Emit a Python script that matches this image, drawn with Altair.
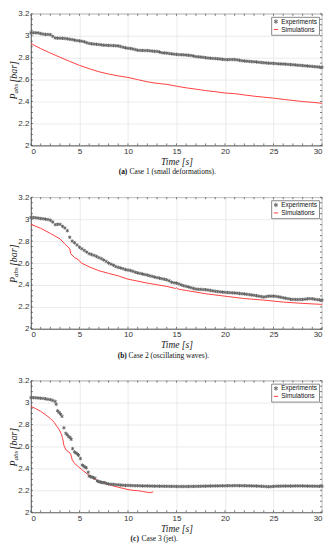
import altair as alt
import pandas as pd

SERIES = ["Experiments", "Simulations"]

# ---------- Case 1 (small deformations) ----------
exp_a_t = [i * 0.25 for i in range(121)]
exp_a_p = [3.027, 3.027, 3.027, 3.026, 3.02, 3.015, 3.012, 3.012,
           3.01, 2.995, 2.98, 2.978, 2.977, 2.977, 2.975, 2.972,
           2.968, 2.965, 2.96, 2.956, 2.953, 2.95, 2.945, 2.937,
           2.93, 2.927, 2.924, 2.922, 2.92, 2.917, 2.914, 2.913,
           2.912, 2.911, 2.91, 2.909, 2.907, 2.902, 2.895, 2.89,
           2.886, 2.884, 2.88, 2.874, 2.868, 2.866, 2.866, 2.865,
           2.865, 2.863, 2.86, 2.858, 2.857, 2.852, 2.845, 2.843,
           2.842, 2.838, 2.835, 2.832, 2.83, 2.828, 2.827, 2.826,
           2.824, 2.822, 2.82, 2.815, 2.81, 2.808, 2.806, 2.803,
           2.8, 2.797, 2.795, 2.793, 2.792, 2.79, 2.788, 2.785,
           2.783, 2.782, 2.783, 2.783, 2.783, 2.78, 2.776, 2.772,
           2.77, 2.768, 2.766, 2.764, 2.763, 2.761, 2.758, 2.756,
           2.754, 2.752, 2.75, 2.749, 2.748, 2.746, 2.744, 2.743,
           2.742, 2.741, 2.739, 2.737, 2.736, 2.734, 2.731, 2.73,
           2.728, 2.726, 2.724, 2.722, 2.72, 2.718, 2.716, 2.714,
           2.713]
sim_a_t = [0, 0.5, 1, 2, 3, 4, 5, 6, 7, 8, 9, 10, 11, 12, 13, 14, 15,
           16, 17, 18, 19, 20, 21, 22, 23, 24, 25, 26, 27, 28, 29, 30]
sim_a_p = [2.93, 2.906, 2.883, 2.842, 2.804, 2.766, 2.73, 2.70, 2.672,
           2.651, 2.634, 2.62, 2.60, 2.58, 2.566, 2.557, 2.54, 2.525,
           2.513, 2.50, 2.49, 2.478, 2.472, 2.46, 2.449, 2.44, 2.431,
           2.42, 2.41, 2.40, 2.393, 2.384]

# ---------- Case 2 (oscillating waves) ----------
exp_b_t = [i * 0.25 for i in range(121)]
exp_b_p = [3.015, 3.015, 3.013, 3.01, 3.006, 3.004, 3.0, 2.997,
           2.99, 2.975, 2.95, 2.953, 2.953, 2.935, 2.92, 2.895,
           2.835, 2.80, 2.785, 2.765, 2.744, 2.73, 2.715, 2.70,
           2.685, 2.678, 2.67, 2.66, 2.65, 2.64, 2.628, 2.615,
           2.60, 2.59, 2.58, 2.568, 2.56, 2.555, 2.548, 2.54,
           2.536, 2.532, 2.525, 2.516, 2.51, 2.505, 2.5, 2.495,
           2.49, 2.484, 2.478, 2.472, 2.467, 2.462, 2.457, 2.452,
           2.447, 2.438, 2.425, 2.42, 2.417, 2.41, 2.40, 2.393,
           2.387, 2.382, 2.375, 2.368, 2.363, 2.36, 2.36, 2.358,
           2.357, 2.354, 2.35, 2.346, 2.342, 2.34, 2.337, 2.335,
           2.333, 2.331, 2.33, 2.328, 2.327, 2.325, 2.322, 2.32,
           2.318, 2.315, 2.312, 2.309, 2.306, 2.302, 2.298, 2.294,
           2.29, 2.294, 2.298, 2.298, 2.298, 2.296, 2.292, 2.288,
           2.283, 2.279, 2.275, 2.27, 2.268, 2.268, 2.267, 2.268,
           2.268, 2.27, 2.274, 2.275, 2.274, 2.27, 2.266, 2.264,
           2.262]
sim_b_t = [0, 1, 2, 3, 3.5, 4, 4.1, 4.5, 4.9, 5.2, 6, 7, 8, 9, 10, 12,
           14, 14.9, 15, 15.2, 16, 18, 20, 22, 24, 26, 28, 30]
sim_b_p = [2.953, 2.917, 2.87, 2.82, 2.774, 2.73, 2.685, 2.65, 2.63,
           2.60, 2.566, 2.53, 2.506, 2.483, 2.453, 2.417, 2.387, 2.368,
           2.375, 2.362, 2.35, 2.32, 2.298, 2.276, 2.262, 2.244, 2.232,
           2.223]

# ---------- Case 3 (jet) ----------
exp_c_t = ([i * 0.25 for i in range(11)] +
           [2.6, 2.75, 2.9, 3.05, 3.2, 3.4, 3.6, 3.75, 3.9, 4.05, 4.15,
            4.3, 4.5, 4.65, 4.8, 4.9, 5.1, 5.3, 5.45, 5.6, 5.7, 5.9,
            6.0, 6.15, 6.3, 6.45, 6.6, 6.85, 7.0, 7.15, 7.3, 7.45, 7.6,
            7.8] +
           [8 + i * 0.25 for i in range(89)])
exp_c_p = ([3.045, 3.045, 3.044, 3.042, 3.04, 3.038, 3.035, 3.03, 3.027,
            3.02, 3.01] +
           [2.985, 2.925, 2.91, 2.895, 2.875, 2.77, 2.72, 2.705, 2.69,
            2.68, 2.665, 2.58, 2.55, 2.54, 2.53, 2.52, 2.49, 2.43, 2.42,
            2.41, 2.405, 2.365, 2.33, 2.325, 2.32, 2.315, 2.31, 2.285,
            2.28, 2.275, 2.272, 2.27, 2.27, 2.262] +
           [2.258, 2.256, 2.254, 2.252, 2.25, 2.248, 2.246, 2.245,
            2.245, 2.244, 2.243, 2.242, 2.242, 2.241, 2.24, 2.24,
            2.24, 2.239, 2.239, 2.238, 2.238, 2.238, 2.237, 2.237,
            2.237, 2.236, 2.236, 2.236, 2.235, 2.235, 2.235, 2.235,
            2.235, 2.235, 2.236, 2.236, 2.236, 2.237, 2.237, 2.238,
            2.238, 2.239, 2.239, 2.24, 2.24, 2.24, 2.241, 2.241,
            2.241, 2.242, 2.242, 2.242, 2.243, 2.243, 2.242, 2.242,
            2.242, 2.241, 2.241, 2.24, 2.24, 2.239, 2.238, 2.237,
            2.236, 2.234, 2.233, 2.234, 2.236, 2.237, 2.238, 2.238,
            2.239, 2.239, 2.239, 2.239, 2.239, 2.24, 2.24, 2.24,
            2.24, 2.239, 2.239, 2.238, 2.238, 2.238, 2.237, 2.237,
            2.237])
sim_c_t = [0, 0.5, 1.0, 1.5, 2.0, 2.4, 2.7, 2.9, 3.1, 3.25, 3.4, 3.6, 3.9,
           4.1, 4.25, 4.5, 4.9, 5.3, 5.8, 6.2, 6.6, 7.0, 7.5, 8.0, 8.5,
           9.0, 9.5, 10, 10.5, 11, 11.5, 12, 12.3, 12.6]
sim_c_p = [2.965, 2.945, 2.92, 2.89, 2.855, 2.82, 2.78, 2.755, 2.72, 2.68,
           2.61, 2.57, 2.55, 2.53, 2.48, 2.445, 2.415, 2.385, 2.35, 2.32,
           2.30, 2.285, 2.27, 2.253, 2.24, 2.228, 2.218, 2.207, 2.2,
           2.197, 2.19, 2.182, 2.178, 2.186]

X_LABELS = [0, 5, 10, 15, 20, 25, 30]
Y_LABELS = [2, 2.2, 2.4, 2.6, 2.8, 3, 3.2]
X_TICKS = list(range(0, 31))
Y_TICKS = [round(2 + 0.05 * i, 2) for i in range(25)]

W, H = 292, 132
EXP_COLOR = "#646464"
SIM_COLOR = "#ff4040"
ASTERISK = "M0,-1L0,1M-0.866,-0.5L0.866,0.5M-0.866,0.5L0.866,-0.5"
SANS = "Liberation Sans"
SERIF = "Liberation Serif"
TX = -17  # centre line of the rotated y title


def panel(exp_t, exp_p, sim_t, sim_p, tag, caption, cap_x):
    exp_df = pd.DataFrame({"t": exp_t, "p": exp_p, "series": "Experiments"})
    sim_df = pd.DataFrame({"t": sim_t, "p": sim_p, "series": "Simulations"})
    one = pd.DataFrame({"a": [0]})

    x = alt.X("t:Q", scale=alt.Scale(domain=[0, 30], nice=False),
              axis=alt.Axis(values=X_LABELS, title="Time [s]", ticks=False,
                            labelPadding=2, titlePadding=1,
                            titleFont=SERIF, titleFontStyle="italic",
                            titleFontWeight="normal", titleFontSize=9.5,
                            titleColor="#222"))
    y = alt.Y("p:Q", scale=alt.Scale(domain=[2, 3.2], nice=False),
              axis=alt.Axis(values=Y_LABELS, title=None, ticks=False,
                            format="~g", labelPadding=2))
    legend = alt.Legend(title=None, orient="top-right", offset=3,
                        fillColor="white", strokeColor="#8a8a8a",
                        padding=1.5, rowPadding=0, labelFont=SANS,
                        labelFontSize=6.5, labelColor="#111",
                        symbolSize=20, symbolStrokeWidth=1, labelOffset=2)
    color = alt.Color("series:N",
                      scale=alt.Scale(domain=SERIES, range=[EXP_COLOR, SIM_COLOR]),
                      legend=legend)
    shape = alt.Shape("series:N",
                      scale=alt.Scale(domain=SERIES, range=[ASTERISK, "stroke"]),
                      legend=legend)

    pts = alt.Chart(exp_df).mark_point(filled=False, size=12, strokeWidth=1,
                                       opacity=1).encode(x=x, y=y, color=color,
                                                         shape=shape)
    line = alt.Chart(sim_df).mark_line(strokeWidth=1).encode(x=x, y=y, color=color)

    xt = pd.DataFrame({"t": X_TICKS})
    yt = pd.DataFrame({"p": Y_TICKS})
    tick_style = dict(color="#444", strokeWidth=0.7)
    bt = alt.Chart(xt).mark_rule(**tick_style).encode(x=x, y=alt.value(H), y2=alt.value(H - 2))
    tt = alt.Chart(xt).mark_rule(**tick_style).encode(x=x, y=alt.value(0), y2=alt.value(2))
    lt = alt.Chart(yt).mark_rule(**tick_style).encode(y=y, x=alt.value(0), x2=alt.value(2))
    rt = alt.Chart(yt).mark_rule(**tick_style).encode(y=y, x=alt.value(W - 2), x2=alt.value(W))

    # y-axis title: P_abs [bar]
    yt_p = alt.Chart(one).mark_text(font=SERIF, fontStyle="italic", fontSize=10,
                                    angle=270, align="left", baseline="middle",
                                    dx=-20, color="#222").encode(
        x=alt.value(TX), y=alt.value(H / 2), text=alt.value("P"))
    yt_s = alt.Chart(one).mark_text(font=SERIF, fontStyle="italic", fontSize=7,
                                    angle=270, align="left", baseline="middle",
                                    dx=-14, dy=2.5, color="#222").encode(
        x=alt.value(TX), y=alt.value(H / 2), text=alt.value("abs"))
    yt_b = alt.Chart(one).mark_text(font=SERIF, fontStyle="italic", fontSize=10,
                                    angle=270, align="left", baseline="middle",
                                    dx=-3, color="#222").encode(
        x=alt.value(TX), y=alt.value(H / 2), text=alt.value("[bar]"))

    cap_tag = alt.Chart(one).mark_text(font=SERIF, fontWeight="bold", fontSize=7.5,
                                       align="left", baseline="middle",
                                       color="#111").encode(
        x=alt.value(cap_x), y=alt.value(H + 27), text=alt.value(tag))
    cap_txt = alt.Chart(one).mark_text(font=SERIF, fontSize=7.5, align="left",
                                       baseline="middle", color="#111").encode(
        x=alt.value(cap_x + 11), y=alt.value(H + 27), text=alt.value(caption))

    return alt.layer(lt, rt, bt, tt, line, pts, yt_p, yt_s, yt_b, cap_tag,
                     cap_txt).properties(width=W, height=H)


p1 = panel(exp_a_t, exp_a_p, sim_a_t, sim_a_p, "(a)",
           "Case 1 (small deformations).", 88)
p2 = panel(exp_b_t, exp_b_p, sim_b_t, sim_b_p, "(b)",
           "Case 2 (oscillating waves).", 87)
p3 = panel(exp_c_t, exp_c_p, sim_c_t, sim_c_p, "(c)",
           "Case 3 (jet).", 100)

chart = alt.vconcat(p1, p2, p3, spacing=16).resolve_scale(
    color="independent", shape="independent"
).properties(
    padding={"left": 0, "top": 0, "right": 0, "bottom": 0}
).configure_view(
    stroke="#777", strokeWidth=0.8
).configure_axis(
    labelFont=SANS, labelFontSize=8, labelColor="#333",
    domainColor="#555", domainWidth=0.8,
    gridColor="#e6e6e6", gridWidth=0.8
)

chart.save("out.html", embed_options={"renderer": "svg", "actions": False})
